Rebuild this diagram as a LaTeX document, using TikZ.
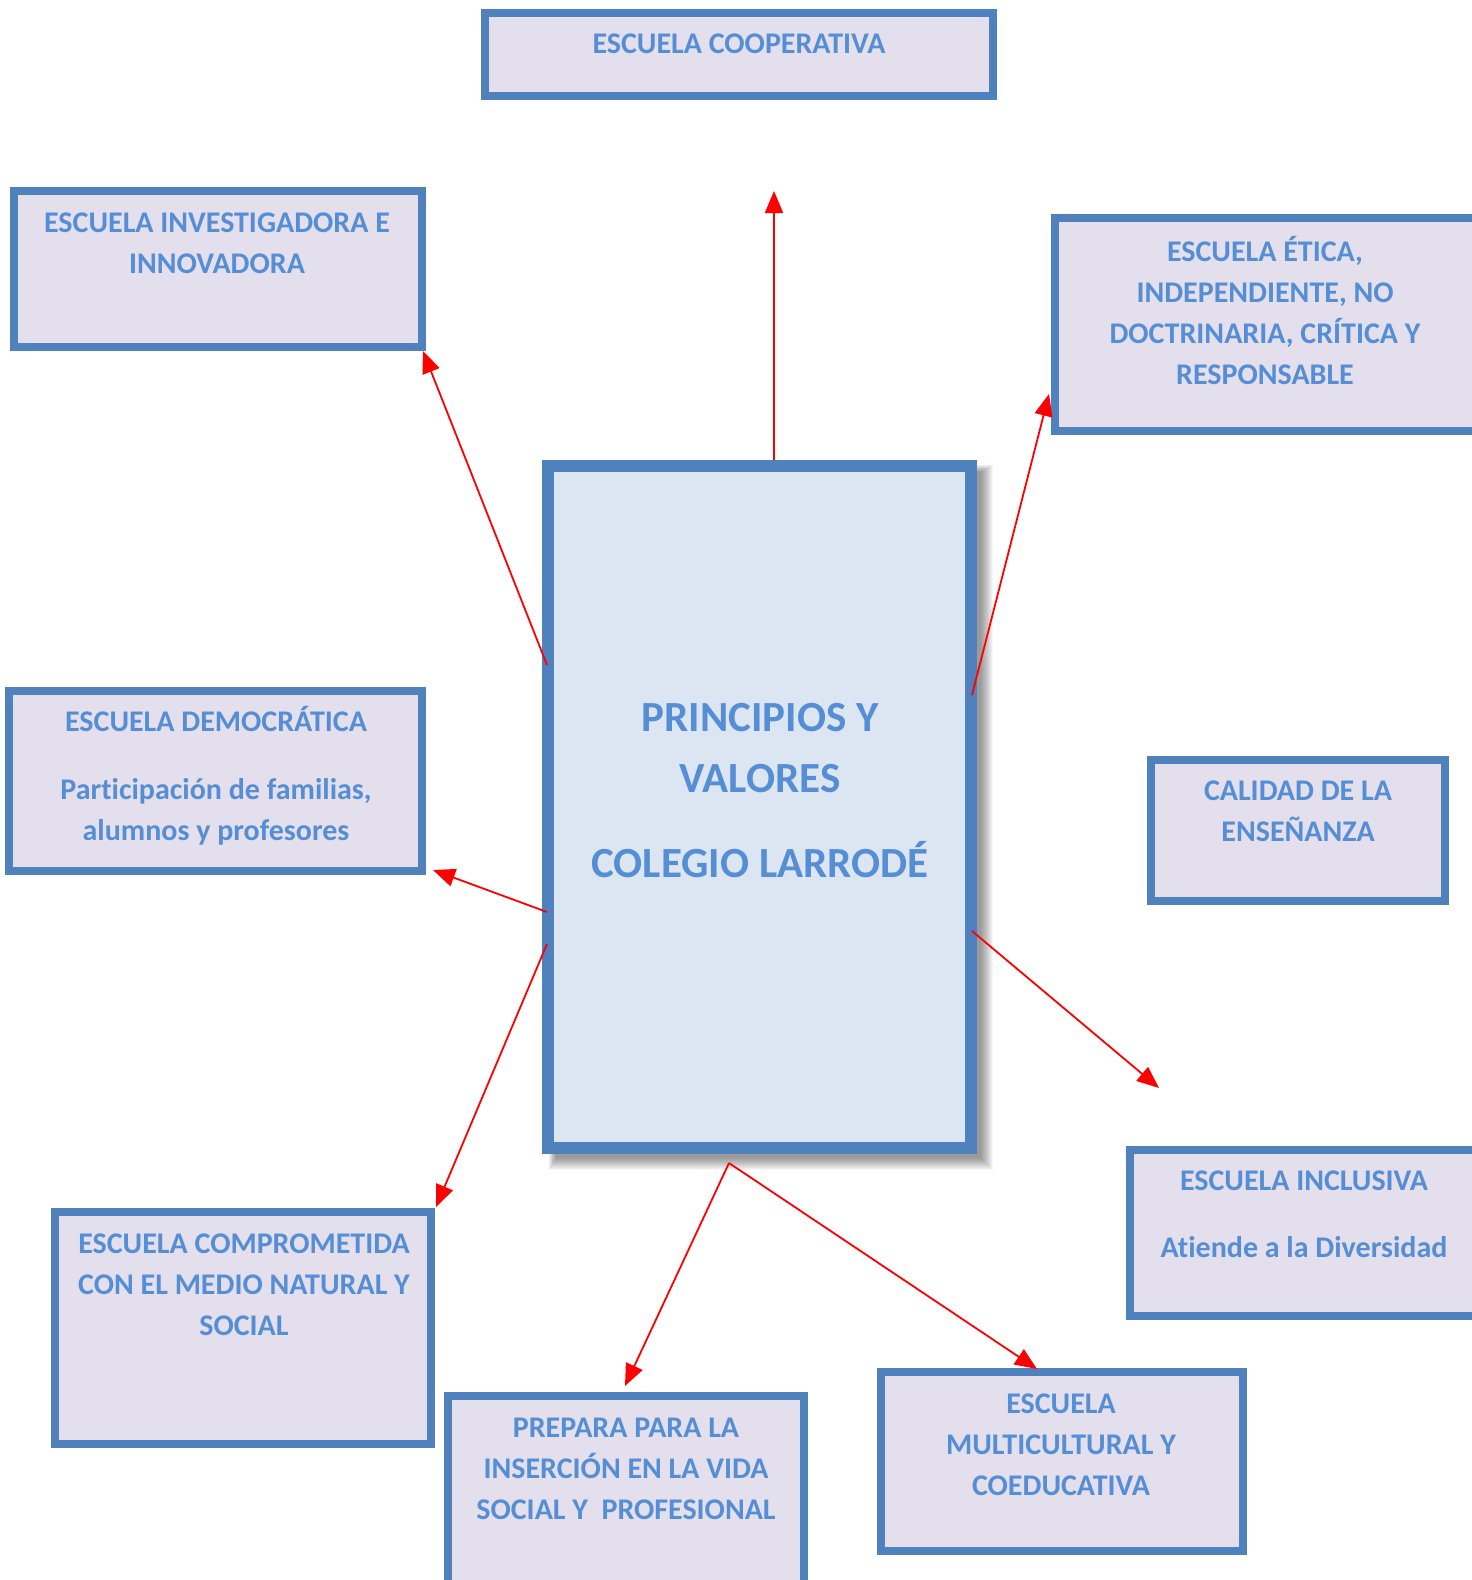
\documentclass[tikz,border=0pt]{standalone}
\usepackage{fontspec}
\setmainfont[Ligatures=NoCommon]{Carlito}
\usetikzlibrary{arrows.meta}
\definecolor{bordc}{HTML}{4F81BD}
\definecolor{txtc}{HTML}{558ED5}
\definecolor{boxfill}{HTML}{E4DFEC}
\definecolor{cenfill}{HTML}{DCE6F2}
\begin{document}
\begin{tikzpicture}[x=1pt,y=-1pt,
  box/.style={draw=bordc, line width=8pt, fill=boxfill, inner sep=0pt, rectangle},
  cbox/.style={draw=bordc, line width=12pt, fill=cenfill, inner sep=0pt, rectangle},
  lbl/.style={text=txtc, font=\fontsize{30}{41}\selectfont\bfseries, align=center, inner sep=0pt},
  clbl/.style={text=txtc, font=\fontsize{43}{61}\selectfont\bfseries, align=center, inner sep=0pt},
  arr/.style={draw=red, line width=1.8pt, -{Triangle[length=22pt,width=18pt]}}]
\useasboundingbox (0,0) rectangle (1472,1580);
\clip (0,0) rectangle (1472,1580);
\fill[white] (0,0) rectangle (1472,1580);

% boxes
\node[box, minimum width=508pt, minimum height=83pt] (coop) at (739,54.5) {};
\node[box, minimum width=408pt, minimum height=156pt] (inv) at (218,269) {};
\node[box, minimum width=445pt, minimum height=213pt] (etica) at (1277.5,324.5) {};
\node[box, minimum width=413pt, minimum height=180pt] (dem) at (215.5,781) {};
\node[box, minimum width=294pt, minimum height=141pt] (cal) at (1298,830.5) {};
\node[box, minimum width=370pt, minimum height=166pt] (incl) at (1315,1233) {};
\node[box, minimum width=376pt, minimum height=232pt] (comp) at (243,1328) {};
\node[box, minimum width=356pt, minimum height=204pt] (prep) at (626,1498) {};
\node[box, minimum width=362pt, minimum height=179pt] (multi) at (1062,1461.5) {};

% central shadow
\foreach \i in {0,...,12}
  \fill[black, opacity=0.035] (556-\i*0.6, 472-\i*0.6) rectangle (981+\i, 1158+\i);
\node[cbox, minimum width=423pt, minimum height=682pt] (cen) at (759.5,807) {};

% labels
\node[lbl] (tcoop) at (739,44) {ESCUELA COOPERATIVA};
\node[lbl] (tinv) at (217,243.5) {ESCUELA INVESTIGADORA E\\INNOVADORA};
\node[lbl] (tetica) at (1265,310) {ESCUELA ÉTICA,\\INDEPENDIENTE, NO\\DOCTRINARIA, CRÍTICA Y\\RESPONSABLE};
\node[lbl] (tdem) at (216,776) {ESCUELA DEMOCRÁTICA\\[27pt]Participación de familias,\\alumnos y profesores};
\node[lbl] (tcal) at (1298,811.5) {CALIDAD DE LA\\ENSEÑANZA};
\node[lbl] (tincl) at (1304,1214.5) {ESCUELA INCLUSIVA\\[26pt]Atiende a la Diversidad};
\node[lbl] (tcomp) at (244,1285) {ESCUELA COMPROMETIDA\\CON EL MEDIO NATURAL Y\\SOCIAL};
\node[lbl] (tprep) at (626,1468.5) {PREPARA PARA LA\\INSERCIÓN EN LA VIDA\\SOCIAL Y\ \ PROFESIONAL};
\node[lbl] (tmulti) at (1061,1444.5) {ESCUELA\\MULTICULTURAL Y\\COEDUCATIVA};
\node[clbl] (tcen) at (760,791) {PRINCIPIOS Y\\VALORES\\[24pt]COLEGIO LARRODÉ};

% connector end points
\coordinate (s1) at (774,460);  \coordinate (e1) at (774,191);
\coordinate (s2) at (547,665);  \coordinate (e2) at (423,351);
\coordinate (s3) at (972,695);  \coordinate (e3) at (1049,394);
\coordinate (s4) at (547,912);  \coordinate (e4) at (433,870);
\coordinate (s5) at (547,944);  \coordinate (e5) at (436,1207);
\coordinate (s6) at (972,931);  \coordinate (e6) at (1159,1088);
\coordinate (b7) at (729,1163); \coordinate (e7a) at (625,1386); \coordinate (e7b) at (1037,1369);

\draw[arr] (s1) -- (e1);
\draw[arr] (s2) -- (e2);
\draw[arr] (s3) -- (e3);
\draw[arr] (s4) -- (e4);
\draw[arr] (s5) -- (e5);
\draw[arr] (s6) -- (e6);
\draw[arr] (b7) -- (e7a);
\draw[arr] (b7) -- (e7b);
\end{tikzpicture}
\end{document}
